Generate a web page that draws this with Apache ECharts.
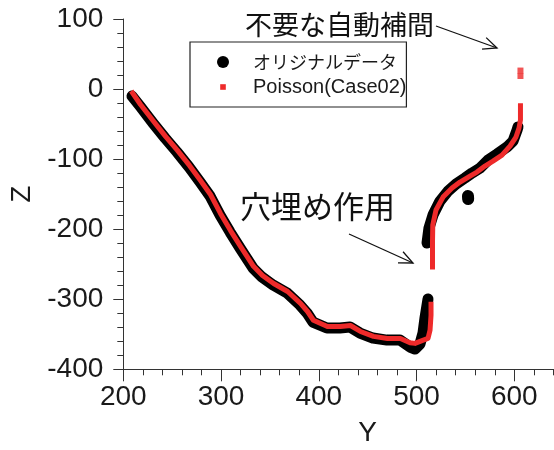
<!DOCTYPE html>
<html>
<head>
<meta charset="utf-8">
<script src="https://cdn.jsdelivr.net/npm/echarts@6/dist/echarts.min.js"></script>
<style>
  html, body { margin: 0; padding: 0; background: #fff; }
  #chart { width: 554px; height: 450px; }
</style>
</head>
<body>
<div id="chart"></div>
<script>
// Series names (legend)
const nameOriginal = 'オリジナルデータ';
const namePoisson = 'Poisson(Case02)';

// Original measured profile [Y, Z], lower part (up to the hole)
const originalLower = [
  [208.9, -10.0], [217.1, -24.3], [230.4, -48.5], [242.7, -69.9], [254.9, -89.9],
  [267.2, -111.3], [278.5, -132.7], [288.7, -152.7], [298.9, -179.8], [309.2, -204.1],
  [319.4, -226.9], [332.7, -255.5], [341.9, -268.3], [353.3, -279.8], [367.6, -291.2],
  [380.8, -308.3], [388.0, -319.7], [394.0, -332.6], [408.3, -341.1], [421.6, -341.1],
  [431.9, -339.7], [442.1, -348.3], [455.4, -355.4], [469.7, -358.3], [483.0, -358.3],
  [493.3, -368.3], [498.4, -371.1], [503.5, -364.0], [506.6, -348.3], [508.6, -326.9],
  [511.7, -299.7]
];
// Original measured profile, upper part (after the hole)
const originalUpper = [
  [510.7, -219.8], [512.7, -198.4], [516.8, -179.8], [524.0, -159.9], [532.2, -145.6],
  [540.3, -135.6], [549.5, -127.0], [556.7, -119.9], [564.9, -112.8], [573.1, -101.3],
  [582.3, -92.8], [592.5, -82.8], [598.7, -74.2], [602.8, -58.5], [603.8, -54.0]
];
// Isolated outlier of the original data
const originalOutlier = [[552.6, -152.5], [552.8, -157.0]];

// Poisson reconstruction, lower part
const poissonLower = [
  [209.6, -5.7], [217.6, -22.0], [230.9, -46.0], [243.2, -67.5], [255.4, -87.5],
  [267.7, -109.0], [279.0, -130.5], [289.2, -150.5], [299.4, -177.5], [309.7, -202.0],
  [319.9, -224.5], [333.2, -253.0], [342.4, -266.0], [353.8, -277.5], [368.1, -289.0],
  [381.3, -306.0], [388.5, -317.5], [394.5, -330.0], [408.8, -339.0], [422.1, -339.0],
  [432.4, -337.5], [442.6, -346.0], [455.9, -353.0], [470.2, -356.0], [483.5, -356.0],
  [493.3, -362.0], [498.4, -363.0], [505.6, -359.0], [511.7, -356.0], [513.8, -344.0],
  [514.8, -323.0], [514.8, -307.0]
];
// Poisson reconstruction, hole filling and upper part
const poissonUpper = [
  [516.3, -254.0], [516.3, -220.0], [516.6, -194.0], [519.9, -172.7], [527.1, -154.2],
  [536.3, -141.3], [544.5, -132.7], [554.7, -124.2], [561.8, -118.5], [570.0, -109.9],
  [578.2, -102.8], [587.4, -94.2], [595.6, -81.4], [601.7, -68.5], [604.8, -55.7],
  [606.3, -44.0], [606.3, -24.0]
];
// Spurious points produced by automatic interpolation
const poissonStray = [[606.3, 26.4], [606.3, 18.6]];

// Axis ranges and tick steps
const yRange = [200, 700];
const zRange = [-400, 100];
const yStep = 100;
const zStep = 100;

// Annotations
const noteTop = '不要な自動補間';
const noteMid = '穴埋め作用';

const BLACK = '#000000';
const RED = '#ee2a2a';
const AXIS = '#333333';
const LATIN = '"Liberation Sans", Arial, Helvetica, "Noto Sans CJK JP", sans-serif';
const CJK = '"Noto Sans CJK JP", "Liberation Sans", sans-serif';

function lineSeries(name, data, color, width, cap, z) {
  return {
    name: name, type: 'line', data: data, z: z,
    showSymbol: false, symbol: 'none', smooth: false, animation: false,
    lineStyle: { color: color, width: width, cap: cap, join: 'round' },
    itemStyle: { color: color },
    emphasis: { disabled: true }
  };
}

// Arrow polyline pieces: shaft plus open head
function arrow(x1, y1, x2, y2, head) {
  const a = Math.atan2(y2 - y1, x2 - x1);
  const s = 0.42;
  const w1 = [x2 - head * Math.cos(a - s), y2 - head * Math.sin(a - s)];
  const w2 = [x2 - head * Math.cos(a + s), y2 - head * Math.sin(a + s)];
  const st = { stroke: '#111', lineWidth: 1.3, fill: null };
  return [
    { type: 'polyline', shape: { points: [[x1, y1], [x2, y2]] }, style: st, silent: true },
    { type: 'polyline', shape: { points: [w1, [x2, y2], w2] }, style: st, silent: true }
  ];
}

const chart = echarts.init(document.getElementById('chart'), null, { renderer: 'canvas' });

const option = {
  backgroundColor: '#ffffff',
  animation: false,
  // plot area continues past the right edge of the canvas (up to Y = 700)
  grid: { left: 123.3, top: 19, width: 488.75, height: 350.3, outerBoundsMode: 'none', containLabel: false },
  legend: {
    left: 190, top: 42, orient: 'vertical',
    padding: [10, 0, 10, 27], itemGap: 5,
    itemWidth: 12, itemHeight: 12,
    borderColor: '#222', borderWidth: 1.2, backgroundColor: '#fff',
    selectedMode: false,
    formatter: function (name) {
      return name === nameOriginal ? '{jp|' + name + '}' : name;
    },
    textStyle: {
      fontFamily: LATIN, fontSize: 20, color: '#1a1a1a', lineHeight: 20, padding: [0, 0, 0, 19],
      rich: { jp: { fontFamily: CJK, fontSize: 18, color: '#1a1a1a', lineHeight: 20 } }
    },
    data: [
      { name: nameOriginal, icon: 'circle', itemStyle: { color: BLACK } },
      { name: namePoisson, icon: 'path://M0,0 M12,12 M3.2,3.2 L8.8,3.2 L8.8,8.8 L3.2,8.8 Z', itemStyle: { color: RED } }
    ]
  },
  xAxis: {
    type: 'value', min: yRange[0], max: yRange[1], interval: yStep,
    name: 'Y', nameLocation: 'middle', nameGap: 50,
    nameTextStyle: { fontFamily: LATIN, fontSize: 28, color: '#1a1a1a' },
    axisLine: { show: true, onZero: false, lineStyle: { color: AXIS, width: 1 } },
    axisTick: { show: true, inside: false, length: 12, lineStyle: { color: AXIS } },
    minorTick: { show: true, splitNumber: 5, length: 6, lineStyle: { color: AXIS } },
    splitLine: { show: false },
    axisLabel: { fontFamily: LATIN, fontSize: 28, color: '#1a1a1a', margin: 14 }
  },
  yAxis: {
    type: 'value', min: zRange[0], max: zRange[1], interval: zStep,
    name: 'Z', nameLocation: 'middle', nameGap: 86, nameRotate: 90,
    nameTextStyle: { fontFamily: LATIN, fontSize: 28, color: '#1a1a1a' },
    axisLine: { show: true, onZero: false, lineStyle: { color: AXIS, width: 1 } },
    axisTick: { show: true, inside: false, length: 10, lineStyle: { color: AXIS } },
    minorTick: { show: true, splitNumber: 5, length: 6, lineStyle: { color: AXIS } },
    splitLine: { show: false },
    axisLabel: { fontFamily: LATIN, fontSize: 28, color: '#1a1a1a', margin: 20 }
  },
  series: [
    lineSeries(nameOriginal, originalLower, BLACK, 11, 'round', 2),
    lineSeries(nameOriginal, originalUpper, BLACK, 11, 'round', 2),
    lineSeries(nameOriginal, originalOutlier, BLACK, 12, 'round', 2),
    lineSeries(namePoisson, poissonLower, RED, 5, 'square', 3),
    lineSeries(namePoisson, poissonUpper, RED, 5, 'square', 3),
    {
      name: namePoisson, type: 'scatter', data: poissonStray, z: 3,
      symbol: 'rect', symbolSize: 6, itemStyle: { color: RED }, animation: false,
      emphasis: { disabled: true }
    }
  ],
  graphic: [
    { type: 'text', silent: true, style: { x: 245, y: 25, text: noteTop, font: '27px ' + CJK, fill: '#111', textVerticalAlign: 'middle' } },
    { type: 'text', silent: true, style: { x: 240, y: 206, text: noteMid, font: '31px ' + CJK, fill: '#111', textVerticalAlign: 'middle' } }
  ].concat(arrow(436, 26, 497, 48, 15), arrow(349, 234, 413, 263, 15))
};

chart.setOption(option);
</script>
</body>
</html>
